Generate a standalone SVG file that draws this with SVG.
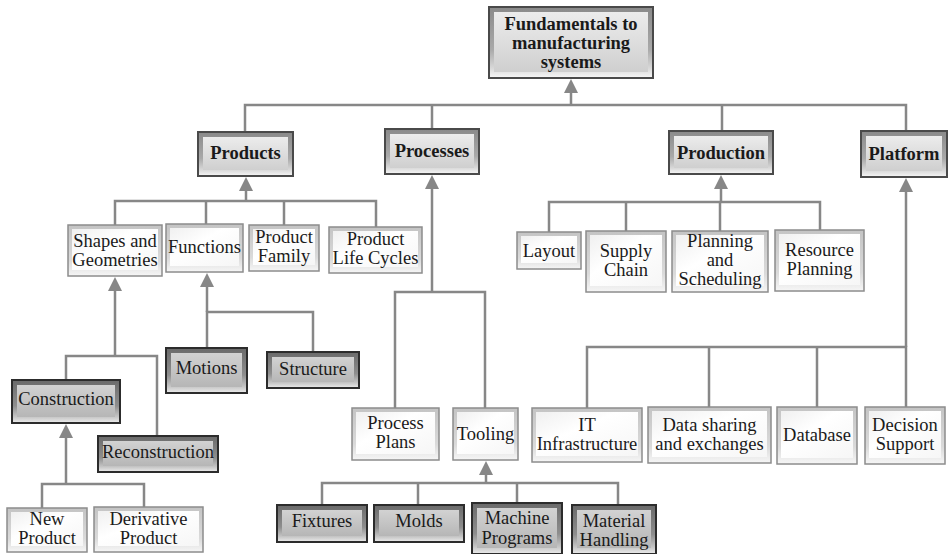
<svg xmlns="http://www.w3.org/2000/svg" width="949" height="554" viewBox="0 0 949 554">
  <defs>
    <style>
      .cn { fill: none; stroke: #878787; stroke-width: 2.5; }
      .ar { marker-end: url(#tip); }
      .fr-hd { fill: url(#gFrHd); stroke: #4a4a4a; stroke-width: 2; }
      .fc-hd { fill: url(#gFcHd); }
      .fr-lt { fill: url(#gFrLt); stroke: #8c8c8c; stroke-width: 1.5; }
      .fc-lt { fill: url(#gFcLt); }
      .fr-dk { fill: url(#gFrDk); stroke: #2c2c2c; stroke-width: 2; }
      .fc-dk { fill: url(#gFcDk); }
      text { font-family: "Liberation Serif", "Times New Roman", serif; font-size: 18.5px; fill: #1a1a1a; text-anchor: middle; }
      .b { font-weight: bold; }
    </style>
    <marker id="tip" markerUnits="userSpaceOnUse" markerWidth="14" markerHeight="14" refX="6" refY="7" orient="auto">
      <path d="M0,0 L14,7 L0,14 Z" fill="#878787"/>
    </marker>
    <!-- bevel frames: darker at top, light band at bottom -->
    <linearGradient id="gFrHd" x1="0" y1="0" x2="0" y2="1">
      <stop offset="0" stop-color="#8a8a8a"/>
      <stop offset="0.6" stop-color="#a9a9a9"/>
      <stop offset="0.85" stop-color="#d6d6d6"/>
      <stop offset="1" stop-color="#f7f7f7"/>
    </linearGradient>
    <linearGradient id="gFcHd" x1="0" y1="0" x2="0" y2="1">
      <stop offset="0" stop-color="#ececec"/>
      <stop offset="1" stop-color="#cfcfcf"/>
    </linearGradient>
    <linearGradient id="gFrLt" x1="0" y1="0" x2="0" y2="1">
      <stop offset="0" stop-color="#c4c4c4"/>
      <stop offset="0.7" stop-color="#dadada"/>
      <stop offset="1" stop-color="#f6f6f6"/>
    </linearGradient>
    <linearGradient id="gFcLt" x1="0" y1="0" x2="1" y2="1">
      <stop offset="0" stop-color="#f0f0f0"/>
      <stop offset="0.4" stop-color="#ffffff"/>
      <stop offset="1" stop-color="#f6f6f6"/>
    </linearGradient>
    <linearGradient id="gFrDk" x1="0" y1="0" x2="0" y2="1">
      <stop offset="0" stop-color="#6a6a6a"/>
      <stop offset="0.6" stop-color="#8e8e8e"/>
      <stop offset="0.85" stop-color="#c4c4c4"/>
      <stop offset="1" stop-color="#ececec"/>
    </linearGradient>
    <linearGradient id="gFcDk" x1="0" y1="0" x2="0" y2="1">
      <stop offset="0" stop-color="#d2d2d2"/>
      <stop offset="1" stop-color="#b6b6b6"/>
    </linearGradient>
  </defs>

  <rect width="949" height="554" fill="#ffffff"/>

  <!-- connectors -->
  <g id="connectors">
    <!-- root level -->
    <path class="cn" d="M245,132 V105 H906 V131 M432,105 V129 M722,105 V131"/>
    <path class="cn ar" d="M571,105 V87"/>
    <!-- products -->
    <path class="cn" d="M115,225 V201 H376 V227 M206,201 V224 M284,201 V225"/>
    <path class="cn ar" d="M246,201 V185"/>
    <path class="cn" d="M66,380 V356 H157 V436"/>
    <path class="cn ar" d="M115,356 V285"/>
    <path class="cn" d="M207,348 V312 H313 V352"/>
    <path class="cn ar" d="M207,312 V281"/>
    <path class="cn" d="M42,508 V484 H144 V507"/>
    <path class="cn ar" d="M66,484 V432"/>
    <!-- processes -->
    <path class="cn" d="M395,408 V292 H485 V408"/>
    <path class="cn ar" d="M432,292 V183"/>
    <path class="cn" d="M322,505 V483 H618 V505 M418,483 V505 M517,483 V503"/>
    <path class="cn ar" d="M486,483 V469"/>
    <!-- production -->
    <path class="cn" d="M549,232 V202 H820 V230 M626,202 V231 M720,202 V231"/>
    <path class="cn ar" d="M721,202 V183"/>
    <!-- platform -->
    <path class="cn" d="M587,408 V347 H906 V407 M709,347 V407 M817,347 V407"/>
    <path class="cn ar" d="M906,347 V186"/>
  </g>

  <!-- top level -->
  <g id="fundamentals">
    <rect class="fr-hd" x="489" y="7" width="164" height="71"/>
    <rect class="fc-hd" x="494" y="12" width="154" height="60"/>
    <text class="b" x="571" y="30">Fundamentals to</text>
    <text class="b" x="571" y="49">manufacturing</text>
    <text class="b" x="571" y="68">systems</text>
  </g>

  <g id="products">
    <rect class="fr-hd" x="198" y="132" width="95" height="44"/>
    <rect class="fc-hd" x="203" y="137" width="85" height="33"/>
    <text class="b" x="245.5" y="159">Products</text>
  </g>
  <g id="processes">
    <rect class="fr-hd" x="385" y="129" width="94" height="45"/>
    <rect class="fc-hd" x="390" y="134" width="84" height="34"/>
    <text class="b" x="432" y="157">Processes</text>
  </g>
  <g id="production">
    <rect class="fr-hd" x="669" y="131" width="104" height="43"/>
    <rect class="fc-hd" x="674" y="136" width="94" height="32"/>
    <text class="b" x="721" y="159">Production</text>
  </g>
  <g id="platform">
    <rect class="fr-hd" x="861" y="131" width="86" height="46"/>
    <rect class="fc-hd" x="866" y="136" width="76" height="35"/>
    <text class="b" x="904" y="160">Platform</text>
  </g>

  <!-- products branch -->
  <g id="shapes">
    <rect class="fr-lt" x="68" y="225" width="94" height="51"/>
    <rect class="fc-lt" x="72" y="229" width="86" height="41"/>
    <text x="115" y="247">Shapes and</text>
    <text x="115" y="266">Geometries</text>
  </g>
  <g id="functions">
    <rect class="fr-lt" x="166" y="224" width="77" height="48"/>
    <rect class="fc-lt" x="170" y="228" width="69" height="38"/>
    <text x="204.5" y="253">Functions</text>
  </g>
  <g id="product-family">
    <rect class="fr-lt" x="249" y="225" width="70" height="46"/>
    <rect class="fc-lt" x="253" y="229" width="62" height="36"/>
    <text x="284" y="243">Product</text>
    <text x="284" y="262">Family</text>
  </g>
  <g id="life-cycles">
    <rect class="fr-lt" x="329" y="227" width="93" height="46"/>
    <rect class="fc-lt" x="333" y="231" width="85" height="36"/>
    <text x="375.5" y="245">Product</text>
    <text x="375.5" y="264">Life Cycles</text>
  </g>
  <g id="motions">
    <rect class="fr-dk" x="166" y="348" width="81" height="45"/>
    <rect class="fc-dk" x="171" y="353" width="71" height="34"/>
    <text x="206.5" y="374">Motions</text>
  </g>
  <g id="structure">
    <rect class="fr-dk" x="267" y="352" width="92" height="36"/>
    <rect class="fc-dk" x="272" y="357" width="82" height="25"/>
    <text x="313" y="375">Structure</text>
  </g>
  <g id="construction">
    <rect class="fr-dk" x="12" y="380" width="108" height="43"/>
    <rect class="fc-dk" x="17" y="385" width="98" height="32"/>
    <text x="66" y="405">Construction</text>
  </g>
  <g id="reconstruction">
    <rect class="fr-dk" x="98" y="436" width="120" height="36"/>
    <rect class="fc-dk" x="103" y="441" width="110" height="25"/>
    <text x="158" y="458">Reconstruction</text>
  </g>
  <g id="new-product">
    <rect class="fr-lt" x="7" y="508" width="80" height="44"/>
    <rect class="fc-lt" x="11" y="512" width="72" height="34"/>
    <text x="47" y="525">New</text>
    <text x="47" y="544">Product</text>
  </g>
  <g id="derivative-product">
    <rect class="fr-lt" x="94" y="507" width="109" height="45"/>
    <rect class="fc-lt" x="98" y="511" width="101" height="35"/>
    <text x="148.5" y="525">Derivative</text>
    <text x="148.5" y="544">Product</text>
  </g>

  <!-- processes branch -->
  <g id="process-plans">
    <rect class="fr-lt" x="352" y="408" width="87" height="52"/>
    <rect class="fc-lt" x="356" y="412" width="79" height="42"/>
    <text x="395.5" y="429">Process</text>
    <text x="395.5" y="448">Plans</text>
  </g>
  <g id="tooling">
    <rect class="fr-lt" x="453" y="408" width="65" height="52"/>
    <rect class="fc-lt" x="457" y="412" width="57" height="42"/>
    <text x="485.5" y="440">Tooling</text>
  </g>
  <g id="fixtures">
    <rect class="fr-dk" x="277" y="505" width="90" height="37"/>
    <rect class="fc-dk" x="282" y="510" width="80" height="26"/>
    <text x="322" y="527">Fixtures</text>
  </g>
  <g id="molds">
    <rect class="fr-dk" x="374" y="505" width="90" height="37"/>
    <rect class="fc-dk" x="379" y="510" width="80" height="26"/>
    <text x="419" y="527">Molds</text>
  </g>
  <g id="machine-programs">
    <rect class="fr-dk" x="472" y="503" width="90" height="51"/>
    <rect class="fc-dk" x="477" y="508" width="80" height="40"/>
    <text x="517" y="524">Machine</text>
    <text x="517" y="544">Programs</text>
  </g>
  <g id="material-handling">
    <rect class="fr-dk" x="572" y="505" width="84" height="49"/>
    <rect class="fc-dk" x="577" y="510" width="74" height="38"/>
    <text x="614" y="527">Material</text>
    <text x="614" y="546">Handling</text>
  </g>

  <!-- production branch -->
  <g id="layout">
    <rect class="fr-lt" x="517" y="232" width="64" height="37"/>
    <rect class="fc-lt" x="521" y="236" width="56" height="27"/>
    <text x="549" y="257">Layout</text>
  </g>
  <g id="supply-chain">
    <rect class="fr-lt" x="586" y="231" width="80" height="61"/>
    <rect class="fc-lt" x="590" y="235" width="72" height="51"/>
    <text x="626" y="257">Supply</text>
    <text x="626" y="276">Chain</text>
  </g>
  <g id="planning-scheduling">
    <rect class="fr-lt" x="672" y="231" width="96" height="61"/>
    <rect class="fc-lt" x="676" y="235" width="88" height="51"/>
    <text x="720" y="247">Planning</text>
    <text x="720" y="266">and</text>
    <text x="720" y="285">Scheduling</text>
  </g>
  <g id="resource-planning">
    <rect class="fr-lt" x="775" y="230" width="89" height="61"/>
    <rect class="fc-lt" x="779" y="234" width="81" height="51"/>
    <text x="819.5" y="256">Resource</text>
    <text x="819.5" y="275">Planning</text>
  </g>

  <!-- platform branch -->
  <g id="it-infrastructure">
    <rect class="fr-lt" x="532" y="408" width="110" height="54"/>
    <rect class="fc-lt" x="536" y="412" width="102" height="44"/>
    <text x="587" y="431">IT</text>
    <text x="587" y="450">Infrastructure</text>
  </g>
  <g id="data-sharing">
    <rect class="fr-lt" x="648" y="407" width="123" height="56"/>
    <rect class="fc-lt" x="652" y="411" width="115" height="46"/>
    <text x="709.5" y="431">Data sharing</text>
    <text x="709.5" y="450">and exchanges</text>
  </g>
  <g id="database">
    <rect class="fr-lt" x="777" y="407" width="80" height="57"/>
    <rect class="fc-lt" x="781" y="411" width="72" height="47"/>
    <text x="817" y="441">Database</text>
  </g>
  <g id="decision-support">
    <rect class="fr-lt" x="865" y="407" width="80" height="57"/>
    <rect class="fc-lt" x="869" y="411" width="72" height="47"/>
    <text x="905" y="431">Decision</text>
    <text x="905" y="450">Support</text>
  </g>
</svg>
